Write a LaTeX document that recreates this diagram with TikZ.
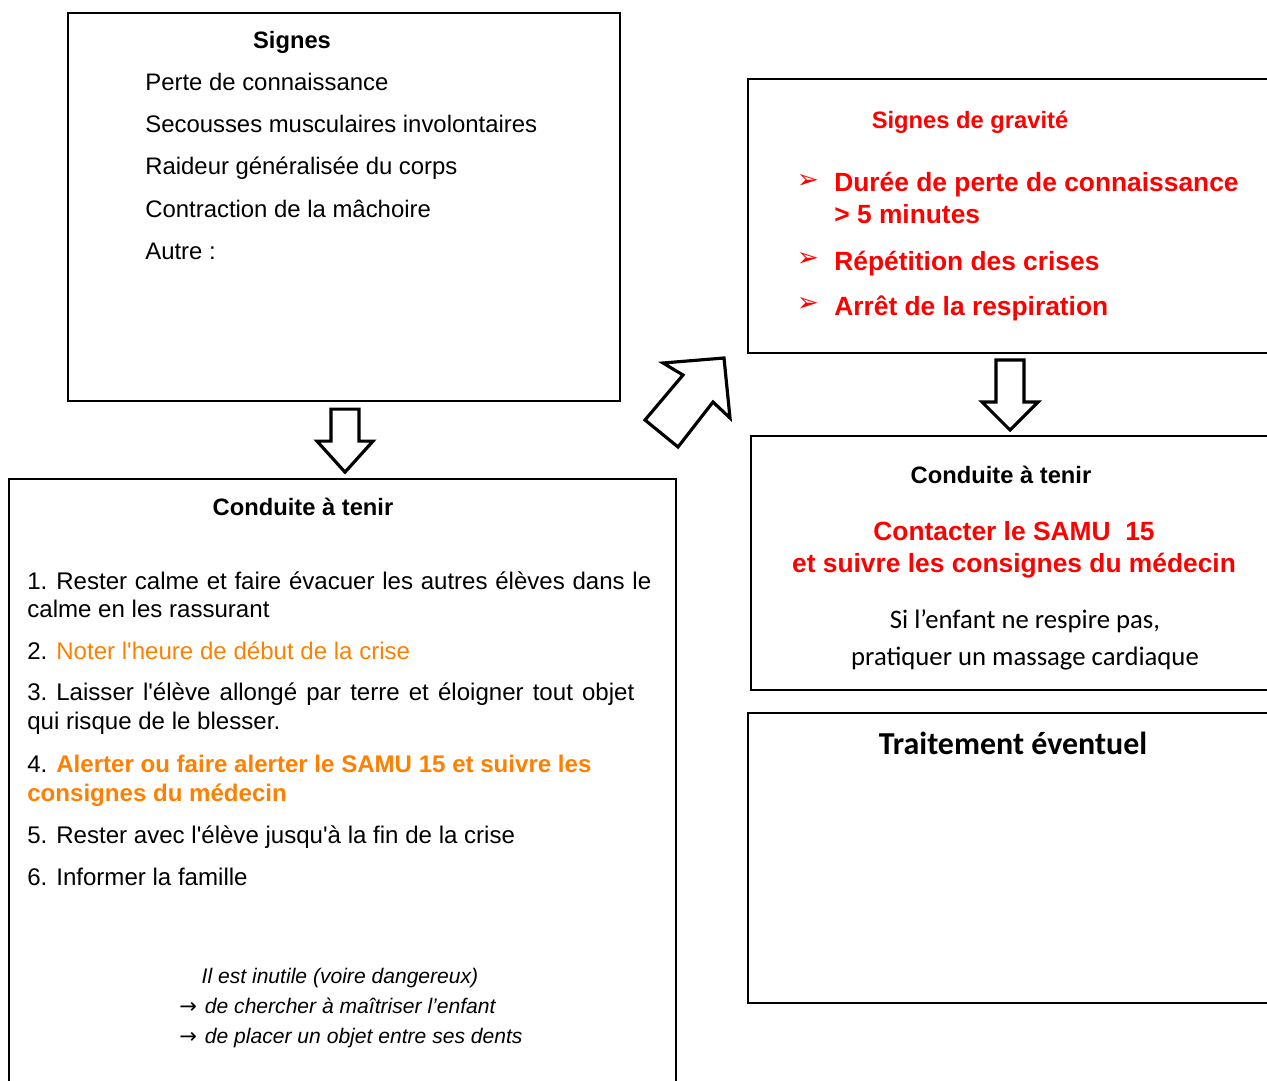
\documentclass[tikz,border=0pt]{standalone}
\usepackage{fontspec}
\setmainfont{Liberation Sans}[Ligatures=TeXOff]
\newfontfamily\calib{Carlito}
\newfontfamily\dingfont{DejaVu Sans}
\usetikzlibrary{fit}
\definecolor{alertred}{RGB}{255,0,0}
\definecolor{alertorange}{RGB}{255,128,0}
\newcommand\notearrow{{\fontsize{12}{12}\dingfont →}\hspace{4.5pt}}

\begin{document}
\begin{tikzpicture}[x=0.02cm,y=-0.02cm,
  box/.style={draw, line width=1.3pt, inner sep=0pt},
  bigarrow/.style={draw, line width=1.8pt, line join=miter, fill=white},
  txt/.style={anchor=base west, inner sep=0pt, font=\fontsize{13.6}{16}\selectfont},
  item/.style={anchor=base west, inner sep=0pt, font=\fontsize{13.7}{17}\selectfont},
  title/.style={anchor=base, inner sep=0pt, font=\fontsize{13.5}{16}\selectfont\bfseries},
  grav/.style={anchor=base west, inner sep=0pt, text=alertred, font=\fontsize{15}{18}\selectfont\bfseries},
  bul/.style={inner sep=0pt, text=alertred, font=\fontsize{15}{18}\dingfont},
  note/.style={inner sep=0pt, font=\fontsize{12}{14}\selectfont\itshape}]

\useasboundingbox (0,0) rectangle (1267,1081);

% boxes
\begin{scope}
\clip (0,0) rectangle (1267,1081);
\node[box, fit={(68,13) (620,401)}] (signes) {};
\node[box, fit={(9,479) (676,1110)}] (conduite) {};
\node[box, fit={(748,79) (1300,353)}] (gravite) {};
\node[box, fit={(751,436) (1300,690)}] (samu) {};
\node[box, fit={(748,713) (1300,1003)}] (traitement) {};
\end{scope}

% arrows
\draw[bigarrow] (signes.south) ++(-13,7) -- ++(28,0) -- ++(0,32) -- ++(14,0)
  -- ++(-28,31) -- ++(-28,-31) -- ++(14,0) -- cycle;
\coordinate (gravdown) at (1010,353);
\draw[bigarrow] (gravdown) ++(-14,7) -- ++(28,0) -- ++(0,42) -- ++(14,0)
  -- ++(-28,28) -- ++(-28,-28) -- ++(14,0) -- cycle;
\draw[bigarrow] (724,358) -- (730,418) -- (713,402) -- (678,447) -- (645,420)
  -- (683,375) -- (663,363) -- cycle;

% Signes
\node[title] (signestitle) at (292,49) {Signes};
\foreach \t [count=\i] in {Perte de connaissance, Secousses musculaires involontaires,
  Raideur généralisée du corps, Contraction de la mâchoire, Autre :}
  \node[txt] (sig\i) at (145,{49+42*\i}) {\t};

% Conduite a tenir (gauche)
\node[title] (conduitetitle) at (303,515) {Conduite à tenir};
\node[item] (c1a) at (27,589) {1. \makebox[338.6pt][s]{Rester calme et faire évacuer les autres élèves dans le}};
\node[item] (c1b) at (27,617) {calme en les rassurant};
\node[item] (c2) at (27,659) {2. \textcolor{alertorange}{Noter l'heure de début de la crise}};
\node[item] (c3a) at (27,700) {3. \makebox[329pt][s]{Laisser l'élève allongé par terre et éloigner tout objet}};
\node[item] (c3b) at (27,729) {qui risque de le blesser.};
\node[item] (c4a) at (27,772) {4. \textcolor{alertorange}{\bfseries Alerter ou faire alerter le SAMU 15 et suivre les}};
\node[item, text=alertorange, font=\fontsize{13.7}{17}\selectfont\bfseries] (c4b) at (27,801) {consignes du médecin};
\node[item] (c5) at (27,843) {5. Rester avec l'élève jusqu'à la fin de la crise};
\node[item] (c6) at (27,885) {6. Informer la famille};

\node[note, anchor=base] (inutile) at (340,983) {Il est inutile (voire dangereux)};
\node[note, anchor=base west] (maitriser) at (179,1013) {\notearrow de chercher à maîtriser l’enfant};
\node[note, anchor=base west] (dents) at (179,1043) {\notearrow de placer un objet entre ses dents};

% Signes de gravite
\node[title, text=alertred] (gravtitle) at (970,129) {Signes de gravité};
\node[bul] at (808,181) {➢};
\node[grav] (g1a) at (834,192) {Durée de perte de connaissance};
\node[grav] (g1b) at (834,224) {> 5 minutes};
\node[bul] at (808,259) {➢};
\node[grav] (g2) at (834,270) {Répétition des crises};
\node[bul] at (808,304) {➢};
\node[grav] (g3) at (834,315) {Arrêt de la respiration};

% Conduite a tenir (droite)
\node[title] (samutitle) at (1001,483) {Conduite à tenir};
\node[grav, anchor=base] (samu1) at (1014,540) {Contacter le SAMU\ \ 15};
\node[grav, anchor=base] (samu2) at (1014,572) {et suivre les consignes du médecin};
\node[anchor=base, inner sep=0pt, font=\fontsize{15.2}{18}\calib] (massage1) at (1025,628) {Si l’enfant ne respire pas,};
\node[anchor=base, inner sep=0pt, font=\fontsize{15.2}{18}\calib] (massage2) at (1025,665) {pratiquer un massage cardiaque};

% Traitement
\node[anchor=base, inner sep=0pt, font=\fontsize{18.2}{22}\calib\bfseries] (traittitle) at (1013,754) {Traitement éventuel};
\end{tikzpicture}
\end{document}
